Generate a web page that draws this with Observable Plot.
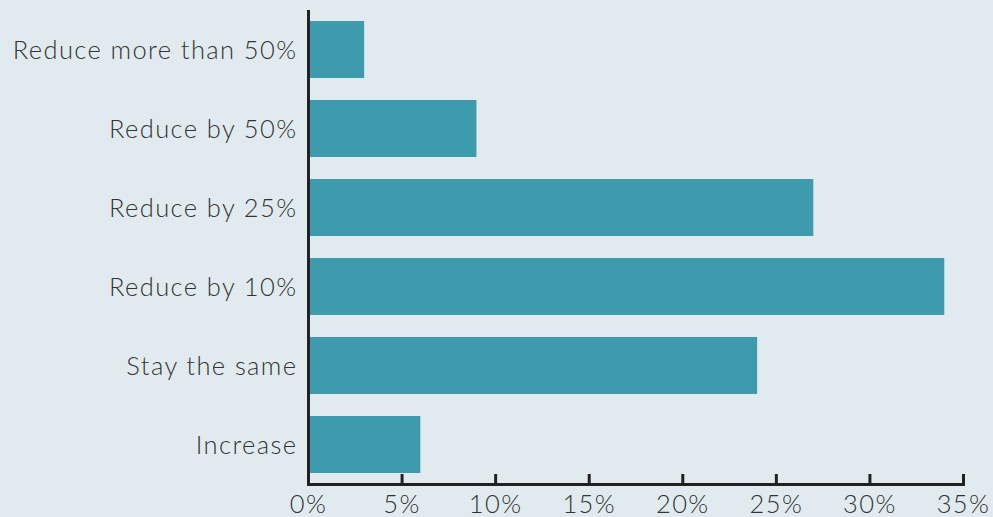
<!DOCTYPE html>
<html>
<head>
<meta charset="utf-8">
<script src="https://cdn.jsdelivr.net/npm/d3@7"></script>
<script src="https://cdn.jsdelivr.net/npm/@observablehq/plot@0.6"></script>
<style>
  html, body { margin: 0; padding: 0; background: #e1ebef; }
  #chart svg { display: block; }
  #chart svg text { letter-spacing: 1.4px; }
</style>
</head>
<body>
<div id="chart"></div>
<script>
const categories = ["Reduce more than 50%", "Reduce by 50%", "Reduce by 25%", "Reduce by 10%", "Stay the same", "Increase"];
const values = [3, 9, 27, 34, 24, 6];
const xTicks = [0, 5, 10, 15, 20, 25, 30, 35];

const data = categories.map((c, i) => ({category: c, value: values[i]}));

const chart = Plot.plot({
  width: 993,
  height: 517,
  marginLeft: 308,
  marginRight: 30,
  marginTop: 10,
  marginBottom: 33,
  style: {background: "#e1ebef", fontFamily: "Lato, 'Open Sans', sans-serif", fontSize: "25.5px", color: "#333"},
  x: {domain: [0, 35], ticks: xTicks},
  y: {domain: categories, paddingInner: 0.28, paddingOuter: 0.14, align: 0.5},
  marks: [
    Plot.barX(data, {x: "value", y: "category", fill: "#3e9aad"}),
    Plot.tickX(xTicks, {x: d => d, stroke: "#222", strokeWidth: 3, insetTop: 464}),
    Plot.axisX({ticks: xTicks, tickSize: 0, tickPadding: 10, tickFormat: d => d + "%", fill: "#333", fontWeight: 300, label: null}),
    Plot.axisY({tickSize: 0, tickPadding: 11, dy: 1, fill: "#333", fontWeight: 300, label: null}),
    Plot.ruleX([0], {stroke: "#222", strokeWidth: 3}),
    Plot.frame({anchor: "bottom", stroke: "#222", strokeWidth: 3})
  ]
});
document.getElementById("chart").appendChild(chart);
</script>
</body>
</html>
